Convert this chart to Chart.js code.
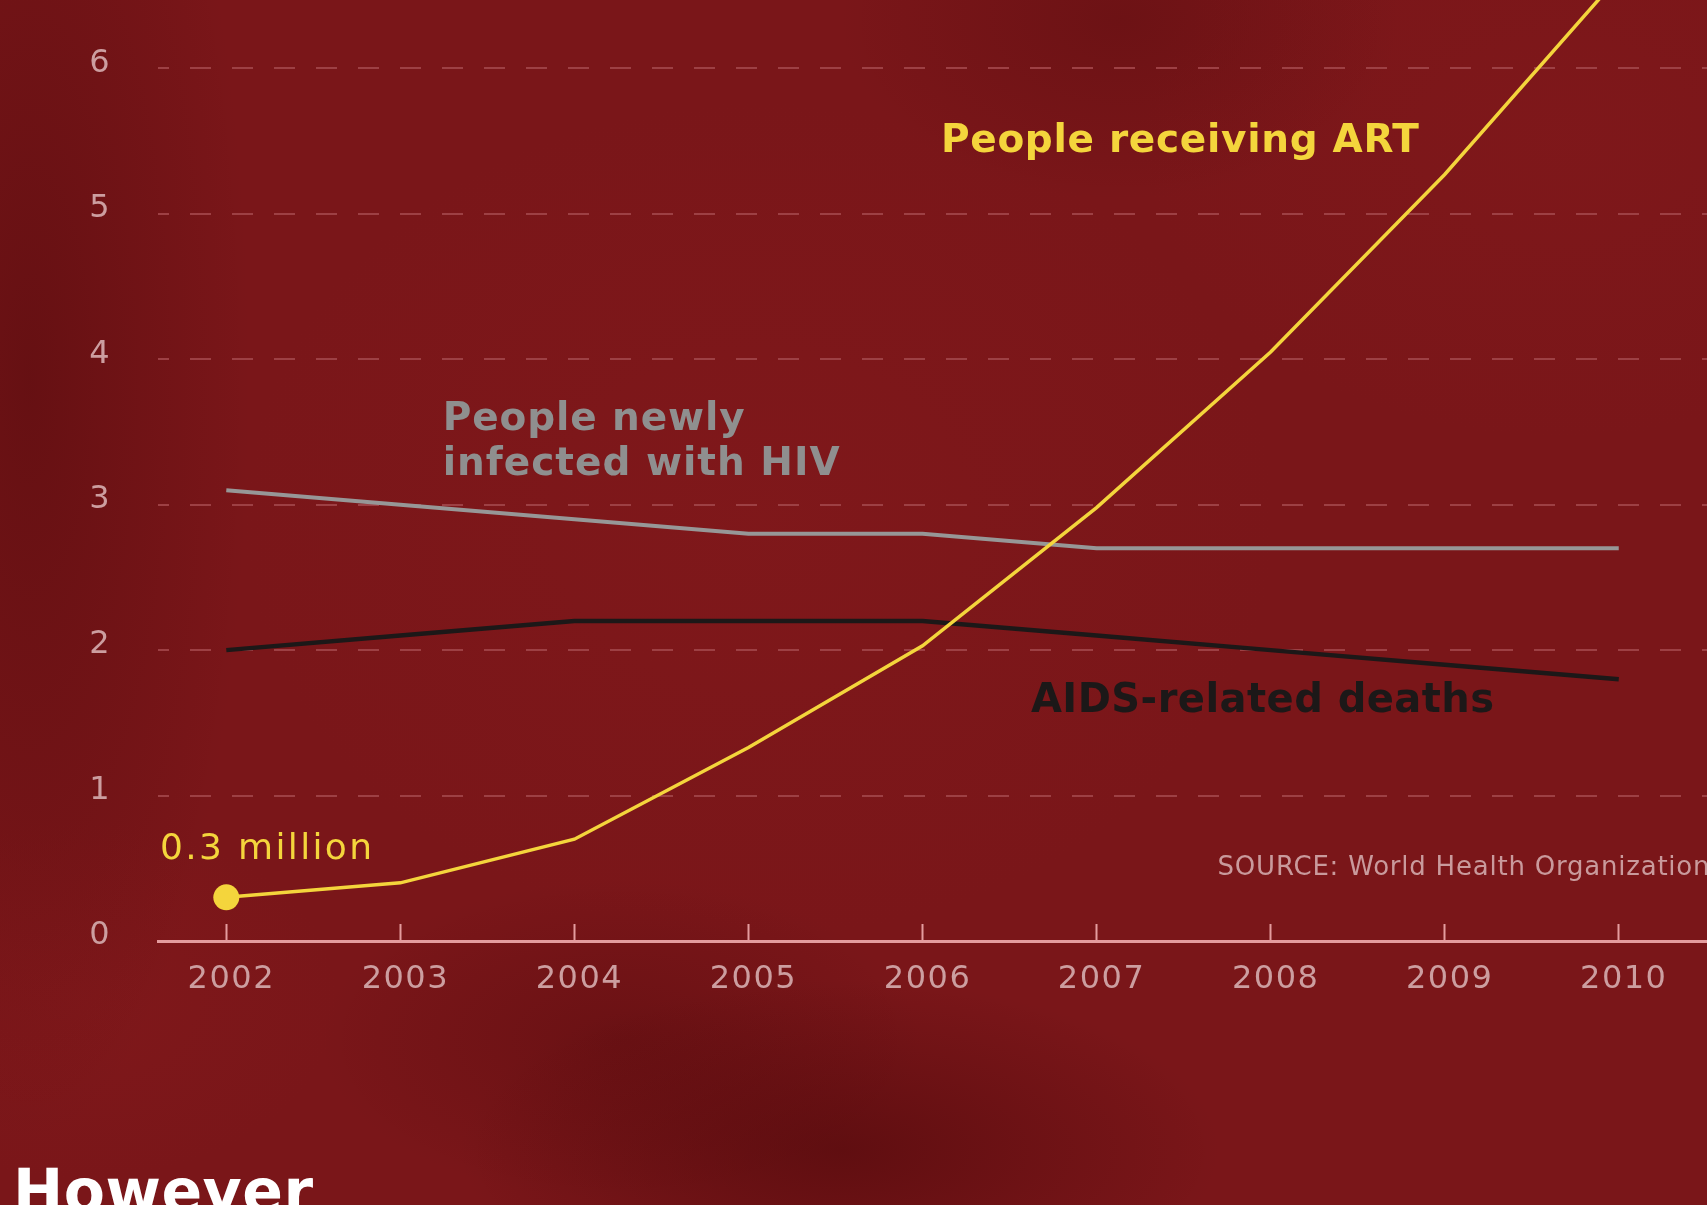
<!DOCTYPE html>
<html>
<head>
<meta charset="utf-8">
<script src="https://cdn.jsdelivr.net/npm/chart.js@4.4.1/dist/chart.umd.min.js"></script>
<style>
  html, body { margin: 0; padding: 0; }
  body { width: 1707px; height: 1205px; overflow: hidden; background: #7a1619; }
  #wrap {
    position: relative; width: 1707px; height: 1205px;
    background:
      radial-gradient(ellipse 380px 170px at 840px 1150px, rgba(70,6,8,0.50), rgba(70,6,8,0) 100%),
      radial-gradient(ellipse 300px 160px at 620px 1040px, rgba(70,6,8,0.30), rgba(70,6,8,0) 100%),
      radial-gradient(ellipse 220px 760px at 30px 380px, rgba(78,9,11,0.45), rgba(78,9,11,0) 100%),
      radial-gradient(ellipse 280px 180px at 1120px 20px, rgba(78,9,11,0.30), rgba(78,9,11,0) 100%),
      radial-gradient(ellipse 520px 420px at 760px 520px, rgba(140,28,30,0.28), rgba(140,28,30,0) 100%),
      radial-gradient(ellipse 420px 300px at 1560px 140px, rgba(140,28,30,0.25), rgba(140,28,30,0) 100%),
      radial-gradient(ellipse 260px 180px at 80px 1000px, rgba(140,28,30,0.30), rgba(140,28,30,0) 100%),
      #7a1619;
  }
  canvas { position: absolute; left: 0; top: 0; }
</style>
</head>
<body>
<div id="wrap"><canvas id="c" width="1707" height="1205"></canvas></div>
<script>
// ---- data ----
const years = [2002, 2003, 2004, 2005, 2006, 2007, 2008, 2009, 2010];
const artValues = [0.30, 0.40, 0.70, 1.33, 2.03, 2.98, 4.05, 5.27, 6.63];
const newInfections = [3.1, 3.0, 2.9, 2.8, 2.8, 2.7, 2.7, 2.7, 2.7];
const aidsDeaths = [2.0, 2.1, 2.2, 2.2, 2.2, 2.1, 2.0, 1.9, 1.8];
const yTickValues = [0, 1, 2, 3, 4, 5, 6];
const seriesNames = ['People receiving ART', 'People newly infected with HIV', 'AIDS-related deaths'];
const startLabel = '0.3 million';
const sourceText = 'SOURCE: World Health Organization';
const footerText = 'However';

// ---- styles ----
const YELLOW = '#f4d53c';
const GREY = '#979797';
const BLACK = '#1c1818';
const TICK_TEXT = '#cc9ea0';
const AXIS = '#e49c9e';
const GRID = '#9d4044';
const FONT = '"DejaVu Sans", Verdana, sans-serif';

const toPoints = vals => years.map((yr, i) => ({ x: yr, y: vals[i] }));

// text annotations anchored in data space
const annotations = [
  { lines: [seriesNames[0]], x: 2006.106, y: 5.426, color: YELLOW, weight: 'bold', size: 39, width: 478 },
  { lines: ['People newly', 'infected with HIV'], x: 2003.243, y: 3.511, color: '#8f8f8f', weight: 'bold', size: 39, width: [302, 397], lineGap: 45 },
  { lines: [seriesNames[2]], x: 2006.623, y: 1.575, color: BLACK, weight: 'bold', size: 40, width: 463 },
  { lines: [startLabel], x: 2001.619, y: 0.567, color: YELLOW, weight: 'normal', size: 36, width: 212 },
  { lines: [sourceText], x: 2007.695, y: 0.452, color: '#c99a9c', weight: 'normal', size: 26, width: 492 }
];

function drawText(ctx, text, x, y, weight, size, color, target) {
  ctx.font = weight + ' ' + size + 'px ' + FONT;
  ctx.fillStyle = color;
  ctx.textAlign = 'left';
  ctx.textBaseline = 'alphabetic';
  const hasLS = ('letterSpacing' in ctx);
  if (hasLS && target) {
    ctx.letterSpacing = '0px';
    const w = ctx.measureText(text).width;
    const ls = (target - w) / Math.max(1, text.length - 1);
    ctx.letterSpacing = ls.toFixed(2) + 'px';
  }
  ctx.fillText(text, x, y);
  if (hasLS) ctx.letterSpacing = '0px';
}

const labelPlugin = {
  id: 'labels',
  beforeDraw(chart) {
    // slightly wider tick lettering, like the original
    if ('letterSpacing' in chart.ctx) chart.ctx.letterSpacing = '1.5px';
  },
  beforeDatasetsDraw(chart) {
    if ('letterSpacing' in chart.ctx) chart.ctx.letterSpacing = '0px';
  },
  afterDatasetsDraw(chart) {
    const ctx = chart.ctx;
    const xs = chart.scales.x, ys = chart.scales.y;
    ctx.save();
    annotations.forEach(a => {
      const px = xs.getPixelForValue(a.x);
      const py = ys.getPixelForValue(a.y);
      a.lines.forEach((t, i) => {
        const w = Array.isArray(a.width) ? a.width[i] : a.width;
        drawText(ctx, t, px, py + i * (a.lineGap || 0), a.weight, a.size, a.color, w);
      });
    });
    // page footer heading (outside the chart)
    drawText(ctx, footerText, 13, 1212, 'bold', 60, '#ffffff', 300);
    ctx.restore();
  }
};

new Chart(document.getElementById('c'), {
  type: 'line',
  data: {
    datasets: [
      {
        label: seriesNames[0],
        data: toPoints(artValues),
        borderColor: YELLOW,
        backgroundColor: YELLOW,
        borderWidth: 3.5,
        tension: 0,
        pointRadius: ctx => (ctx.dataIndex === 0 ? 13 : 0),
        pointBorderWidth: 0,
        pointBackgroundColor: YELLOW
      },
      {
        label: seriesNames[1],
        data: toPoints(newInfections),
        borderColor: GREY,
        borderWidth: 4,
        tension: 0,
        pointRadius: 0
      },
      {
        label: seriesNames[2],
        data: toPoints(aidsDeaths),
        borderColor: BLACK,
        borderWidth: 4.5,
        tension: 0,
        pointRadius: 0
      }
    ]
  },
  options: {
    responsive: false,
    animation: false,
    devicePixelRatio: 1,
    layout: { padding: 0, autoPadding: false },
    plugins: { legend: { display: false }, tooltip: { enabled: false } },
    scales: {
      x: {
        type: 'linear',
        min: 2001.6076,
        max: 2010.507,
        afterBuildTicks: s => { s.ticks = years.map(v => ({ value: v })); },
        afterFit: s => { s.height = 264; s.paddingLeft = 0; s.paddingRight = 0; },
        grid: {
          drawOnChartArea: false,
          drawTicks: true,
          tickLength: -17,
          tickColor: AXIS,
          tickWidth: 2
        },
        border: { display: true, color: AXIS, width: 3 },
        ticks: {
          color: TICK_TEXT,
          font: { family: FONT, size: 32 },
          padding: 36,
          labelOffset: 5,
          maxRotation: 0,
          autoSkip: false,
          callback: v => String(v)
        }
      },
      y: {
        type: 'linear',
        min: 0,
        max: 6.47,
        afterBuildTicks: s => { s.ticks = yTickValues.map(v => ({ value: v })); },
        afterFit: s => { s.width = 158; s.paddingTop = 0; s.paddingBottom = 0; },
        grid: {
          color: GRID,
          lineWidth: 2,
          drawTicks: false
        },
        border: { display: false, dash: [21, 21], dashOffset: 10 },
        ticks: {
          color: TICK_TEXT,
          font: { family: FONT, size: 32 },
          padding: 47,
          labelOffset: -5,
          callback: v => String(v)
        }
      }
    }
  },
  plugins: [labelPlugin]
});
</script>
</body>
</html>
